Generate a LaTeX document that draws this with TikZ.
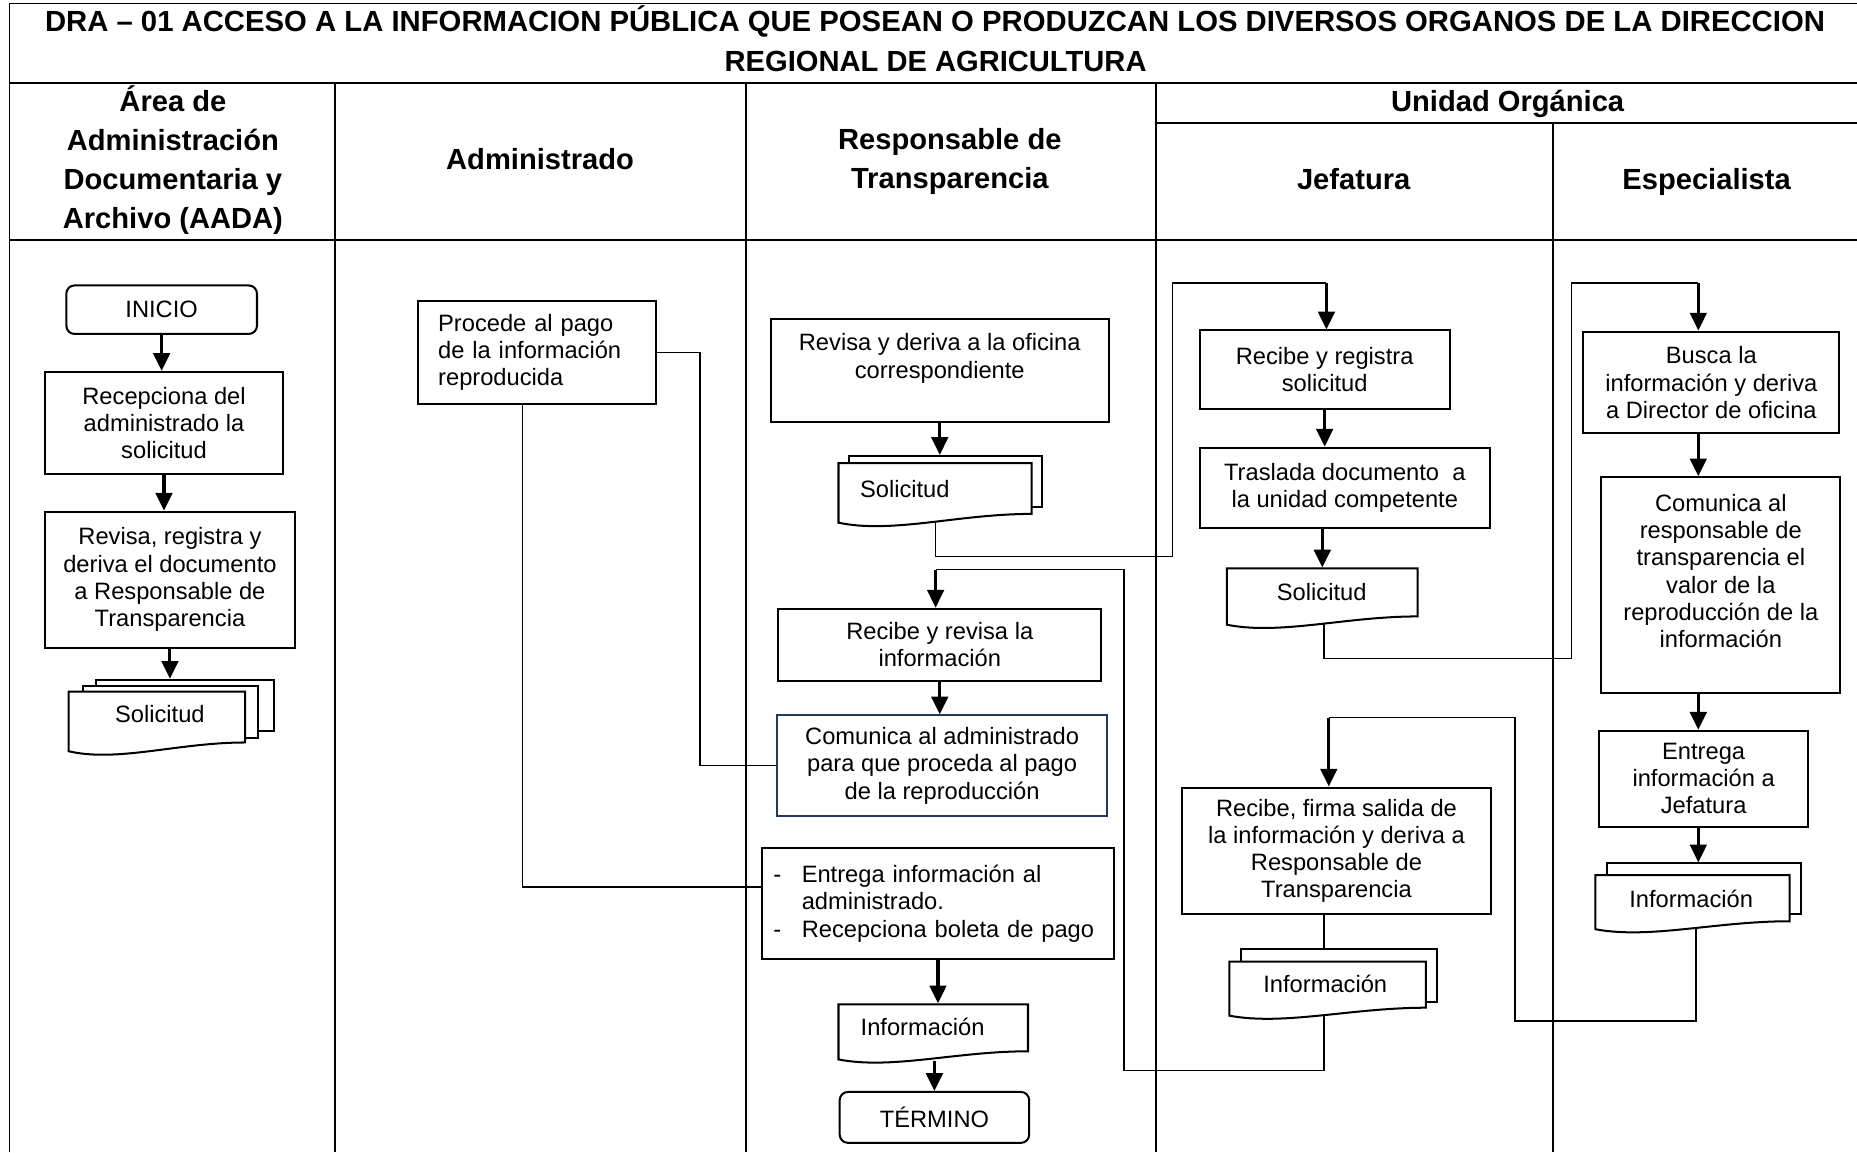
\documentclass[tikz,border=0pt]{standalone}
\usepackage{graphicx}
\usepackage{fontspec}
\setmainfont{Liberation Sans}
\usetikzlibrary{arrows.meta}
\definecolor{navyline}{HTML}{1F3864}

% rectangle node from its corners: [options]{name}{x1}{y1}{x2}{y2}{text}
\newcommand{\procbox}[7][]{%
  \pgfmathsetmacro\pbX{(#3+#5)/2}%
  \pgfmathsetmacro\pbY{(#4+#6)/2}%
  \pgfmathsetmacro\pbW{(#5-#3)/2}%
  \pgfmathsetmacro\pbH{(#6-#4)/2}%
  \node[box, minimum width=\pbW pt, minimum height=\pbH pt, #1] (#2) at (\pbX,\pbY) {#7};%
}

% document sheet with a wavy lower edge; #1 name, (#2,#3) top left, (#4,#5) lowest right extent
\newcommand{\docsheet}[5]{%
  \pgfmathsetmacro\dsW{#4-#2}%
  \pgfmathsetmacro\dsH{#5-#3}%
  \pgfmathsetmacro\dsYl{#5-0.05*\dsH}%
  \pgfmathsetmacro\dsYr{#5-0.19*\dsH}%
  \pgfmathsetmacro\dsCa{#2+0.62*\dsW}%
  \pgfmathsetmacro\dsCb{#2+0.28*\dsW}%
  \pgfmathsetmacro\dsCy{#5+0.13*\dsH}%
  \draw[docline] (#2,#3) -- (#4,#3) -- (#4,\dsYr) .. controls (\dsCa,\dsYr) and (\dsCb,\dsCy) .. (#2,\dsYl) -- cycle;%
}

\begin{document}
\begin{tikzpicture}[x=0.5pt,y=-0.5pt,
  grid/.style={line width=0.8pt},
  hdr/.style={font=\fontsize{12.3}{16.5}\selectfont\bfseries, align=center, inner sep=0pt},
  box/.style={draw=black, line width=0.85pt, inner sep=0pt, align=center,
              font=\fontsize{10}{11.5}\selectfont},
  term/.style={rounded corners=3.5pt},
  anchorbox/.style={draw=none, inner sep=0pt},
  sheet/.style={fill=white},
  docline/.style={draw=black, line width=0.85pt, fill=white},
  doctext/.style={font=\fontsize{10}{11.5}\selectfont, inner sep=0pt},
  conn/.style={line width=0.65pt},
  flow/.style={line width=1.3pt, -{Triangle[length=7.5pt,width=7pt]}},
]
\useasboundingbox (0,0) rectangle (1568,973);

% ---------- table frame ----------
\draw[grid] (8,973) -- (8,3) -- (1568,3);
\draw[grid] (8,70) -- (1568,70);
\draw[grid] (976,104) -- (1568,104);
\draw[grid] (8,203) -- (1568,203);
\draw[grid] (283,70) -- (283,973);
\draw[grid] (630,70) -- (630,973);
\draw[grid] (976,70) -- (976,973);
\draw[grid] (1311,104) -- (1311,973);

% ---------- title and lane headers ----------
\node[hdr, anchor=base] (title1) at (789.5,27)
  {\resizebox{751.5pt}{\height}{DRA – 01 ACCESO A LA INFORMACION PÚBLICA QUE POSEAN O PRODUZCAN LOS DIVERSOS ORGANOS DE LA DIRECCION}};
\node[hdr, anchor=base] (title2) at (790,60) {REGIONAL DE AGRICULTURA};

\node[hdr] (hAada) at (146,135) {Área de\\Administración\\Documentaria y\\Archivo (AADA)};
\node[hdr, anchor=base] (hAdm) at (456,143) {Administrado};
\node[hdr] (hResp) at (802,136) {Responsable de\\Transparencia};
\node[hdr, anchor=base] (hUnidad) at (1273,94) {Unidad Orgánica};
\node[hdr, anchor=base] (hJef) at (1143,160) {Jefatura};
\node[hdr, anchor=base] (hEsp) at (1441,160) {Especialista};

% ---------- process boxes ----------
\procbox[term]{inicio}{56}{241}{217}{282}{INICIO}
\procbox{recep}{38}{314}{239}{400}{Recepciona del\\administrado la\\solicitud}
\procbox{revisa}{38}{432}{249}{547}{Revisa, registra y\\deriva el documento\\a Responsable de\\Transparencia}

\procbox[align=left, text width=83.5pt]{procede}{353}{254}{554}{341}{Procede al pago\\de la información\\reproducida}

\procbox[text depth=12pt]{revderiva}{651}{269}{936}{356}{Revisa y deriva a la oficina\\correspondiente}
\procbox{recrev}{657}{514}{930}{575}{Recibe y revisa la\\información}
\procbox[draw=navyline]{comunica}{656}{604}{935}{689}{Comunica al administrado\\para que proceda al pago\\de la reproducción}
\procbox[align=left, text width=139pt]{entrega}{643}{716}{941}{810}%
  {\makebox[12pt][l]{-}Entrega información al\\\hspace*{12pt}administrado.\\\makebox[12pt][l]{-}Recepciona boleta de pago}
\procbox[term]{termino}{709}{922}{869}{965}{TÉRMINO}

\procbox{recreg}{1013}{279}{1224}{345}{Recibe y registra\\solicitud}
\procbox{traslada}{1013}{378}{1258}{446}{Traslada documento\ \ a\\la unidad competente}
\procbox{firma}{998}{665}{1259}{772}{Recibe, firma salida de\\la información y deriva a\\Responsable de\\Transparencia}

\procbox{busca}{1337}{280}{1553}{366}{Busca la\\información y deriva\\a Director de oficina}
\procbox[text depth=12pt]{comresp}{1352}{403}{1554}{585}{Comunica al\\responsable de\\transparencia el\\valor de la\\reproducción de la\\información}
\procbox{entjef}{1350}{617}{1527}{698}{Entrega\\información a\\Jefatura}

% ---------- routing points ----------
\coordinate (k0) at (790,470);
\coordinate (k1) at (990,470);
\coordinate (k2) at (990,239);
\coordinate (k3) at (1120,239);
\coordinate (m0) at (1118,904);
\coordinate (m1) at (949,904);
\coordinate (m2) at (949,481);
\coordinate (m3) at (790,481);
\coordinate (n0) at (1118,556);
\coordinate (n1) at (1327,556);
\coordinate (n2) at (1327,239);
\coordinate (n3) at (1434,239);
\coordinate (q0) at (1432,862);
\coordinate (q1) at (1279,862);
\coordinate (q2) at (1279,606);
\coordinate (q3) at (1122,606);
\coordinate (p0) at (441,749);
\coordinate (r0) at (1118,0);
\coordinate (ax5) at (1434,0);

% ---------- document frames (named, outlines drawn below) ----------
\procbox[anchorbox]{solA}{58}{584}{207}{637}{}
\procbox[anchorbox]{solT}{708}{391}{871}{444}{}
\procbox[anchorbox]{infT}{708}{848}{868}{897}{}
\procbox[anchorbox]{solJ}{1036}{480}{1197}{530}{}
\procbox[anchorbox]{infJ}{1038}{812}{1204}{860}{}
\procbox[anchorbox]{infE}{1347}{739}{1511}{787}{}

% ---------- thin connectors (documents are drawn over their start) ----------
\draw[conn] (procede.east) -- ++(36,0) |- (comunica.west);
\draw[conn] (procede.south -| p0) -- (p0) -- (entrega.west |- p0);
\draw[conn] (solT.center -| k0) -- (k0) -- (k1) -- (k2) -- (k3);
\draw[conn] (infJ.center -| m0) -- (m0) -- (m1) -- (m2) -- (m3);
\draw[conn] (solJ.center -| n0) -- (n0) -- (n1) -- (n2) -- (n3);
\draw[conn] (infE.center -| q0) -- (q0) -- (q1) -- (q2) -- (q3);
\draw[conn] (firma.south -| r0) -- (infJ.center -| r0);

% ---------- documents ----------
% AADA: three stacked sheets
\procbox[sheet]{solA3}{81}{574}{231}{617}{}
\procbox[sheet]{solA2}{70}{579}{218}{623}{}
\docsheet{solA}{58}{584}{207}{637}
\node[doctext] (solAt) at (135,603) {Solicitud};

% Responsable de Transparencia
\procbox[sheet]{solT2}{717}{385}{880}{428}{}
\docsheet{solT}{708}{391}{871}{444}
\node[doctext] (solTt) at (764,413) {Solicitud};

\docsheet{infT}{708}{848}{868}{897}
\node[doctext] (infTt) at (779,867) {Información};

% Jefatura
\docsheet{solJ}{1036}{480}{1197}{530}
\node[doctext] (solJt) at (1116,500) {Solicitud};

\procbox[sheet]{infJ2}{1048}{801}{1213}{846}{}
\docsheet{infJ}{1038}{812}{1204}{860}
\node[doctext] (infJt) at (1119,831) {Información};

% Especialista
\procbox[sheet]{infE2}{1357}{729}{1521}{772}{}
\docsheet{infE}{1347}{739}{1511}{787}
\node[doctext] (infEt) at (1428,759) {Información};

% ---------- flow arrows ----------
\draw[flow] (inicio.south) -- (inicio.south |- recep.north);
\draw[flow] (recep.south) -- (recep.south |- revisa.north);
\draw[flow] (revisa.south) -- (revisa.south |- solA3.north);

\draw[flow] (revderiva.south) -- (revderiva.south |- solT2.north);
\draw[flow] (k3) -- (recreg.north -| k3);
\draw[flow] (m3) -- (recrev.north -| m3);
\draw[flow] (recrev.south) -- (recrev.south |- comunica.north);
\draw[flow] (entrega.south) -- (entrega.south |- infT.north);
\draw[flow] ([yshift=1pt]infT.south -| termino.north) -- (termino.north);

\draw[flow] (recreg.south) -- (recreg.south |- traslada.north);
\draw[flow] (traslada.south -| solJ.north) -- (solJ.north);
\draw[flow] (q3) -- (firma.north -| q3);

\draw[flow] (n3) -- (busca.north -| n3);
\draw[flow] (busca.south -| ax5) -- (comresp.north -| ax5);
\draw[flow] (comresp.south -| ax5) -- (entjef.north -| ax5);
\draw[flow] (entjef.south -| ax5) -- (infE2.north -| ax5);
\end{tikzpicture}
\end{document}
